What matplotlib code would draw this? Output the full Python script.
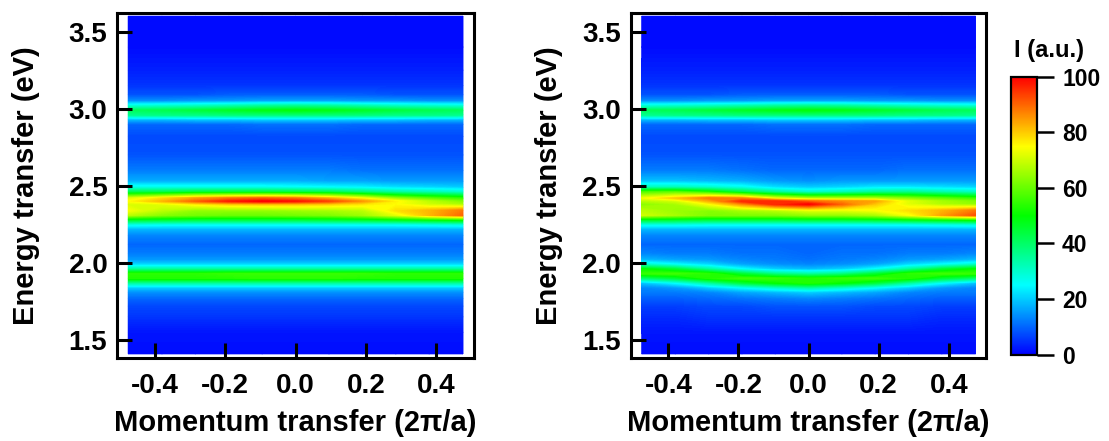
import numpy as np
import matplotlib
matplotlib.use('Agg')
import matplotlib.pyplot as plt
from matplotlib.colors import LinearSegmentedColormap, Normalize
from matplotlib.cm import ScalarMappable

plt.rcParams['font.family'] = ['Liberation Sans', 'DejaVu Sans']
plt.rcParams['font.weight'] = 'bold'

momentum = [-0.476, -0.38, -0.285, -0.19, -0.095, 0.0, 0.095, 0.19, 0.285, 0.38, 0.476]
energy = [1.41, 1.55, 1.65, 1.72, 1.77, 1.81, 1.84, 1.87, 1.90, 1.93, 1.96, 1.99, 2.02, 2.06, 2.12,
          2.18, 2.22, 2.25, 2.28, 2.31, 2.34, 2.38, 2.40, 2.42, 2.46, 2.49, 2.53, 2.60,
          2.70, 2.82, 2.90, 2.93, 2.96, 2.99, 3.02, 3.05, 3.09, 3.15, 3.25, 3.40, 3.60]

x_ticks = [-0.4, -0.2, 0.0, 0.2, 0.4]
y_ticks = [1.5, 2.0, 2.5, 3.0, 3.5]
cbar_ticks = [0, 20, 40, 60, 80, 100]

# one line per momentum column: low band, middle band, top band
left_intensity = [
    [1, 2, 5, 7, 10, 14, 20, 34, 53, 54, 34, 21, 15, 12, 10,  13, 18, 27, 46, 68, 74, 71, 75, 71, 42, 27, 17, 12,  8, 7, 10, 18, 36, 41, 28, 14, 8, 5, 3, 1, 1],
    [1, 2, 5, 7, 10, 14, 20, 34, 53, 54, 34, 21, 15, 12, 10,  13, 18, 26, 45, 63, 68, 72, 82, 78, 42, 27, 17, 12,  8, 7, 10, 18, 37, 42, 29, 14, 8, 5, 3, 1, 1],
    [1, 2, 5, 7, 10, 14, 20, 34, 53, 54, 34, 21, 15, 12, 10,  13, 18, 26, 44, 61, 64, 76, 90, 84, 44, 27, 17, 12,  8, 7, 10, 19, 37, 44, 30, 15, 8, 5, 3, 1, 1],
    [1, 2, 5, 7, 10, 14, 20, 34, 53, 55, 34, 21, 15, 12, 10,  13, 18, 26, 44, 60, 64, 79, 97, 88, 44, 27, 17, 12,  8, 7, 10, 19, 38, 46, 32, 15, 9, 5, 3, 1, 1],
    [1, 2, 5, 7, 10, 14, 20, 34, 54, 55, 34, 21, 15, 12, 10,  13, 18, 26, 44, 60, 64, 80, 100, 90, 44, 27, 17, 12,  8, 7, 11, 20, 38, 48, 34, 16, 9, 5, 3, 1, 1],
    [1, 2, 5, 7, 10, 14, 20, 34, 54, 55, 34, 21, 15, 12, 10,  13, 18, 26, 44, 61, 65, 80, 98, 88, 43, 26, 17, 12,  8, 7, 11, 20, 38, 49, 35, 16, 9, 5, 3, 1, 1],
    [1, 2, 5, 7, 10, 14, 20, 34, 54, 55, 34, 21, 15, 12, 10,  13, 18, 26, 45, 62, 66, 79, 93, 82, 42, 25, 16, 12,  8, 7, 11, 20, 38, 48, 34, 16, 9, 5, 3, 1, 1],
    [1, 2, 5, 7, 10, 14, 20, 34, 53, 55, 34, 21, 15, 12, 10,  13, 18, 26, 46, 65, 68, 77, 85, 74, 38, 24, 16, 11,  8, 7, 10, 19, 38, 46, 32, 15, 9, 5, 3, 1, 1],
    [1, 2, 5, 7, 10, 14, 20, 34, 53, 54, 34, 21, 15, 12, 10,  13, 18, 26, 48, 72, 78, 75, 76, 64, 34, 22, 15, 11,  8, 7, 10, 19, 37, 44, 30, 15, 8, 5, 3, 1, 1],
    [1, 2, 5, 7, 10, 14, 20, 34, 53, 54, 34, 21, 15, 12, 10,  13, 18, 27, 50, 82, 82, 70, 68, 58, 32, 21, 15, 11,  8, 7, 10, 18, 37, 42, 29, 14, 8, 5, 3, 1, 1],
    [1, 2, 5, 7, 10, 14, 20, 34, 53, 54, 34, 21, 15, 12, 10,  13, 18, 28, 52, 90, 88, 66, 62, 54, 30, 20, 15, 11,  8, 7, 10, 18, 36, 41, 28, 14, 8, 5, 3, 1, 1],
]

right_intensity = [
    [1, 2, 4, 6, 9, 12, 13, 19, 38, 55, 50, 30, 18, 13, 10,  13, 18, 27, 46, 70, 68, 63, 67, 73, 57, 32, 19, 12,  8, 7, 10, 18, 36, 41, 28, 14, 8, 5, 3, 1, 1],
    [1, 2, 4, 6, 9, 12, 15, 25, 44, 56, 44, 25, 16, 12, 10,  13, 18, 27, 45, 66, 65, 66, 70, 80, 58, 32, 19, 12,  8, 7, 10, 18, 37, 42, 29, 14, 8, 5, 3, 1, 1],
    [1, 2, 5, 7, 10, 13, 20, 34, 53, 54, 34, 21, 15, 12, 10,  13, 18, 26, 44, 62, 63, 74, 82, 88, 52, 30, 18, 12,  8, 7, 10, 19, 37, 44, 30, 15, 8, 5, 3, 1, 1],
    [1, 2, 5, 7, 11, 16, 25, 44, 56, 44, 25, 16, 13, 11, 10,  13, 18, 26, 44, 62, 66, 85, 96, 86, 43, 27, 17, 11,  8, 7, 10, 19, 38, 46, 32, 15, 9, 5, 3, 1, 1],
    [1, 2, 5, 8, 12, 18, 30, 50, 55, 36, 20, 14, 12, 11, 10,  13, 18, 26, 44, 62, 68, 96, 96, 72, 35, 22, 15, 10,  8, 7, 11, 20, 38, 48, 34, 16, 9, 5, 3, 1, 1],
    [1, 2, 5, 8, 13, 20, 34, 53, 53, 33, 18, 13, 11, 10, 10,  13, 18, 26, 45, 64, 72, 100, 90, 66, 30, 20, 14, 10,  8, 7, 11, 20, 38, 49, 35, 16, 9, 5, 3, 1, 1],
    [1, 2, 5, 8, 12, 18, 30, 50, 55, 36, 20, 14, 12, 11, 10,  13, 18, 26, 45, 64, 72, 90, 86, 66, 32, 21, 15, 10,  8, 7, 11, 20, 38, 48, 34, 16, 9, 5, 3, 1, 1],
    [1, 2, 5, 7, 11, 16, 25, 44, 56, 44, 25, 16, 13, 11, 10,  13, 18, 26, 46, 66, 74, 80, 84, 66, 35, 23, 15, 10,  8, 7, 10, 19, 38, 46, 32, 15, 9, 5, 3, 1, 1],
    [1, 2, 5, 7, 10, 13, 20, 34, 53, 54, 34, 21, 15, 12, 10,  13, 18, 26, 48, 74, 78, 72, 72, 62, 36, 23, 15, 11,  8, 7, 10, 19, 37, 44, 30, 15, 8, 5, 3, 1, 1],
    [1, 2, 4, 6, 9, 12, 15, 25, 44, 56, 44, 25, 16, 12, 10,  13, 18, 27, 50, 84, 82, 67, 66, 58, 33, 22, 15, 11,  8, 7, 10, 18, 37, 42, 29, 14, 8, 5, 3, 1, 1],
    [1, 2, 4, 6, 9, 12, 13, 19, 38, 55, 50, 30, 18, 13, 10,  13, 18, 28, 52, 92, 88, 64, 62, 54, 31, 21, 15, 11,  8, 7, 10, 18, 36, 41, 28, 14, 8, 5, 3, 1, 1],
]

W, H = 1109, 441


def px_axes(fig, left, right, top, bottom):
    return fig.add_axes([left / W, 1 - bottom / H, (right - left) / W, (bottom - top) / H])


def draw_map(ax, intensity, label_x):
    z = np.array(intensity).T
    # gouraud mesh underneath closes the pixel notches along the contour border
    ax.pcolormesh(momentum, energy, z, shading='gouraud', cmap=rainbow, norm=norm, zorder=0.5)
    ax.contourf(momentum, energy, z, levels=np.linspace(0, 100, 256), cmap=rainbow, norm=norm, zorder=1)
    ax.set_xlim(-0.508, 0.506)
    ax.set_ylim(1.383, 3.619)
    ax.set_xticks(x_ticks, [f'{t:.1f}' for t in x_ticks])
    ax.set_yticks(y_ticks, [f'{t:.1f}' for t in y_ticks])
    ax.tick_params(direction='in', length=10.5, width=2.2, labelsize=20, pad=7)
    ax.tick_params(axis='x', pad=11)
    for spine in ax.spines.values():
        spine.set_linewidth(2.2)
    ax.set_xlabel('Momentum transfer (2\u03c0/a)', fontsize=21, fontweight='bold', va='center')
    ax.xaxis.set_label_coords(0.5, -0.1886)
    ax.set_ylabel('Energy transfer (eV)', fontsize=21, fontweight='bold', va='center')
    ax.yaxis.set_label_coords(label_x, 0.5)


rainbow = LinearSegmentedColormap.from_list('rainbow_bar', ['#0000ff', '#00ffff', '#00ff00', '#ffff00', '#ff0000'], N=512)
norm = Normalize(0, 100)

fig = plt.figure(figsize=(W / 100, H / 100), dpi=100)

ax1 = px_axes(fig, 117, 473.5, 13.3, 358)
draw_map(ax1, left_intensity, -0.255)

ax2 = px_axes(fig, 630.5, 986, 13.3, 358)
draw_map(ax2, right_intensity, -0.23)

cax = px_axes(fig, 1011, 1037, 77, 354.5)
cb = fig.colorbar(ScalarMappable(norm=norm, cmap=rainbow), cax=cax)
cb.set_ticks(cbar_ticks)
cb.ax.tick_params(length=12, width=1.8, labelsize=16.5, pad=6)
cb.outline.set_linewidth(1.6)
fig.text(1049 / W, 1 - 50 / H, 'I (a.u.)', fontsize=17, fontweight='bold', ha='center', va='center')

fig.savefig('out.png', dpi=100)
